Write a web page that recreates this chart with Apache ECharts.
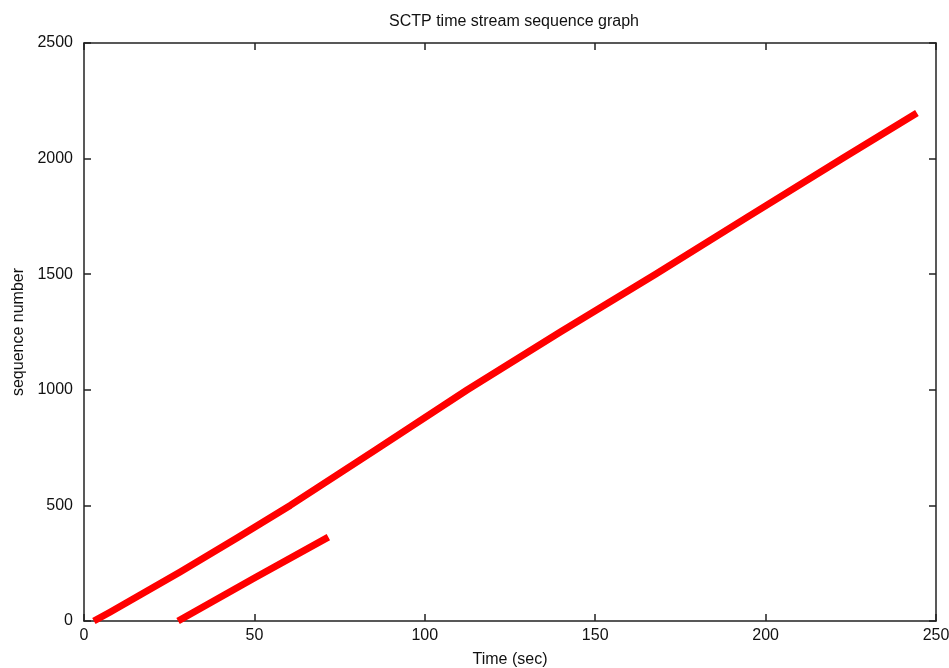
<!DOCTYPE html>
<html>
<head>
<meta charset="utf-8">
<script src="https://cdn.jsdelivr.net/npm/echarts@6/dist/echarts.min.js"></script>
<style>
  html, body { margin: 0; padding: 0; background: #fff; }
  #chart { width: 949px; height: 668px; }
</style>
</head>
<body>
<div id="chart"></div>
<script>
// Stream 1: time (s) and sequence number
const stream1Time = [2.9, 7.6, 28.2, 45.0, 60.5, 85.0, 112.5, 140.0, 167.7, 195.0, 222.5, 244.4];
const stream1Seq  = [0, 38, 212, 360, 500, 735, 1000, 1252, 1500, 1750, 2000, 2197];
// Stream 2: time (s) and sequence number
const stream2Time = [27.6, 50.0, 71.7];
const stream2Seq  = [0, 186, 363];

const xTicks = [0, 50, 100, 150, 200, 250];
const yTicks = [0, 500, 1000, 1500, 2000, 2500];

const pairs = (xs, ys) => xs.map((x, i) => [x, ys[i]]);

const font = 'Liberation Sans, Arial, sans-serif';
const frameColor = '#222';
const frameLine = { show: true, onZero: false, lineStyle: { color: frameColor, width: 1.5 } };
const tickStyle = { show: true, inside: true, length: 7, lineStyle: { color: frameColor, width: 1.5 } };
const labelStyle = { fontFamily: font, fontSize: 16, color: '#111', formatter: v => String(v) };

const chart = echarts.init(document.getElementById('chart'));
chart.setOption({
  animation: false,
  backgroundColor: '#fff',
  title: {
    text: 'SCTP time stream sequence graph',
    left: 509, top: 9, textAlign: 'center',
    textStyle: { fontFamily: font, fontSize: 16, fontWeight: 'normal', color: '#111' }
  },
  grid: { left: 84, right: 13, top: 43, bottom: 47, outerBoundsMode: 'none', containLabel: false },
  xAxis: [
    {
      type: 'value', position: 'bottom',
      min: xTicks[0], max: xTicks[xTicks.length - 1], interval: 50,
      name: 'Time (sec)', nameLocation: 'middle', nameGap: 31,
      nameTextStyle: { fontFamily: font, fontSize: 16, color: '#111' },
      axisLine: frameLine,
      axisTick: tickStyle,
      axisLabel: Object.assign({ margin: 7 }, labelStyle),
      splitLine: { show: false }
    },
    {
      type: 'value', position: 'top',
      min: xTicks[0], max: xTicks[xTicks.length - 1], interval: 50,
      axisLine: frameLine,
      axisTick: tickStyle, axisLabel: { show: false }, splitLine: { show: false }
    }
  ],
  yAxis: [
    {
      type: 'value', position: 'left',
      min: yTicks[0], max: yTicks[yTicks.length - 1], interval: 500,
      name: 'sequence number', nameLocation: 'middle', nameGap: 57, nameRotate: 90,
      nameTextStyle: { fontFamily: font, fontSize: 16, color: '#111' },
      axisLine: frameLine,
      axisTick: tickStyle,
      axisLabel: Object.assign({ margin: 11 }, labelStyle),
      splitLine: { show: false }
    },
    {
      type: 'value', position: 'right',
      min: yTicks[0], max: yTicks[yTicks.length - 1], interval: 500,
      axisLine: frameLine,
      axisTick: tickStyle, axisLabel: { show: false }, splitLine: { show: false }
    }
  ],
  series: [
    {
      type: 'line', xAxisIndex: 0, yAxisIndex: 0,
      data: pairs(stream1Time, stream1Seq),
      showSymbol: false, symbol: 'none',
      lineStyle: { color: '#ff0000', width: 7, cap: 'butt', join: 'round' }
    },
    {
      type: 'line', xAxisIndex: 0, yAxisIndex: 0,
      data: pairs(stream2Time, stream2Seq),
      showSymbol: false, symbol: 'none',
      lineStyle: { color: '#ff0000', width: 7, cap: 'butt', join: 'round' }
    }
  ]
});
</script>
</body>
</html>
